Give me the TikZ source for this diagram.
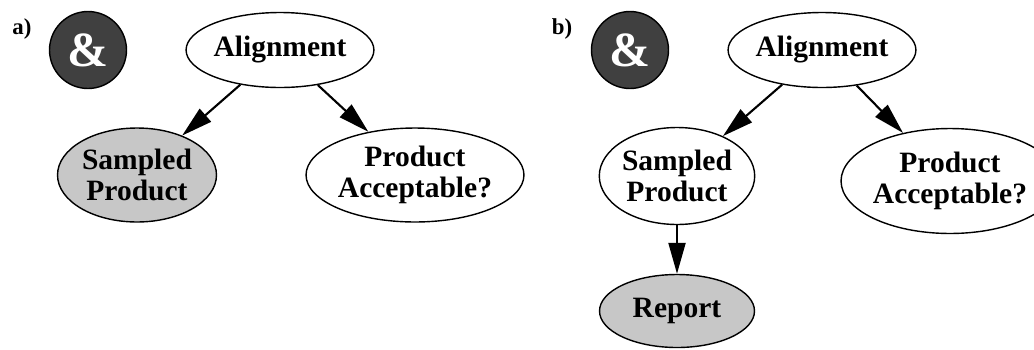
\documentclass[tikz,border=0pt]{standalone}
\usepackage{fontspec}
\setmainfont{Liberation Serif}
\usepackage{tikz}
\usetikzlibrary{arrows.meta,shapes.geometric}

\begin{document}
\begin{tikzpicture}[x=0.02cm,y=-0.02cm,->,>={Triangle[length=0.62cm,width=0.34cm]},
                    line width=1.2pt]
  \tikzstyle{var}=[ellipse,draw,line width=0.8pt,inner sep=0pt,align=center,
                   font=\bfseries\fontsize{16.8}{18}\selectfont]
  \tikzstyle{observed}=[fill=black!22]
  \tikzstyle{andgate}=[circle,draw,line width=0.8pt,fill=black!75,text=white,
                       minimum size=1.54cm,inner sep=0pt,font=\bfseries\fontsize{28}{28}\selectfont]
  \tikzstyle{panel}=[font=\bfseries\fontsize{13}{13}\selectfont]
  \useasboundingbox (0,0) rectangle (1034,349);

  % panel a
  \node[panel] (la) at (22,29) {a)};
  \node[andgate] (anda) at (88,50) {\&};
  \node[var,minimum width=3.1cm,minimum height=1.5cm] (alia) at (280,50) {Alignment};
  \node[var,observed,minimum width=3.18cm,minimum height=1.88cm] (sampa) at (137,175) {Sampled\\Product};
  \node[var,minimum width=3.48cm,minimum height=1.88cm] (acca) at (415,175) {Product\\Acceptable?};
  \draw (alia) -- (sampa);
  \draw (alia) -- (acca);

  % panel b
  \node[panel] (lb) at (562,29) {b)};
  \node[andgate] (andb) at (630,50) {\&};
  \node[var,minimum width=3.1cm,minimum height=1.5cm] (alib) at (822,50) {Alignment};
  \node[var,minimum width=3.1cm,minimum height=1.94cm] (sampb) at (677,176) {Sampled\\Product};
  \node[var,minimum width=3.3cm,minimum height=2.1cm] (accb) at (950,181) {Product\\Acceptable?};
  \node[var,observed,minimum width=3.1cm,minimum height=1.46cm] (repb) at (677,311) {Report};
  \draw (alib) -- (sampb);
  \draw (alib) -- (accb);
  \draw (sampb) -- (repb);
\end{tikzpicture}
\end{document}
